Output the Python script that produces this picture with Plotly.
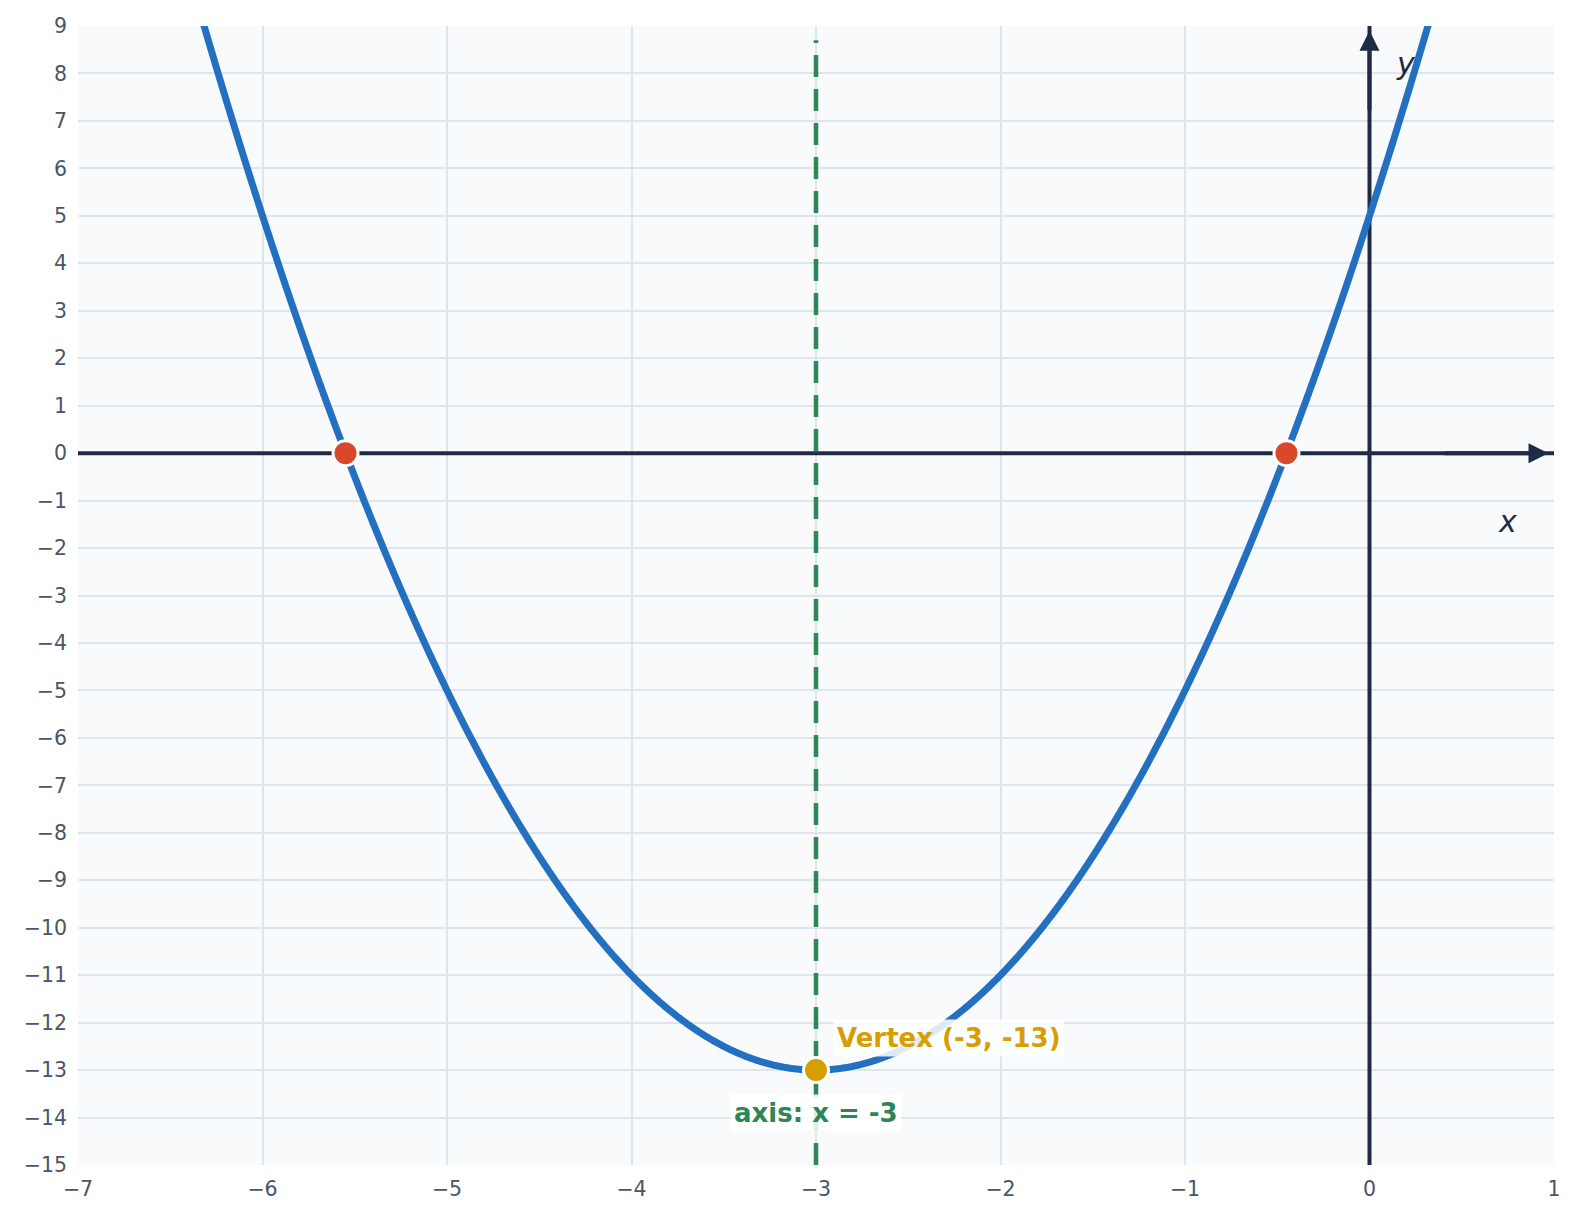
import numpy as np
import plotly.graph_objects as go

# Quadratic y = a x^2 + b x + c
coef_a = 2
coef_b = 12
coef_c = 5
x_range = [-7, 1]
y_range = [-15, 9]
roots_x = [-5.55, -0.45]
roots_y = [0, 0]
vertex_x = [-3]
vertex_y = [-13]
x_ticks = list(range(-7, 2))
y_ticks = list(range(-15, 10))

xs = np.linspace(x_range[0], x_range[1], 1601)
ys = coef_a * xs**2 + coef_b * xs + coef_c

BLUE = "#2470c0"
GREEN = "#2e8555"
RED = "#d9482b"
GOLD = "#d69e00"
DARK = "#1f2a44"
GRID = "#dde5ef"
TICK = "#4a5568"

fig = go.Figure()

# coordinate axes
fig.add_trace(go.Scatter(x=x_range, y=[0, 0], mode="lines",
                         line=dict(color=DARK, width=4), hoverinfo="skip", showlegend=False))
fig.add_trace(go.Scatter(x=[0, 0], y=y_range, mode="lines",
                         line=dict(color=DARK, width=4), hoverinfo="skip", showlegend=False))
# symmetry axis
fig.add_trace(go.Scatter(x=[vertex_x[0], vertex_x[0]], y=[y_range[0], y_range[1] - 0.3], mode="lines",
                         line=dict(color=GREEN, width=4.5, dash="22px,12px"),
                         hoverinfo="skip", showlegend=False))

fig.add_trace(go.Scatter(x=xs, y=ys, mode="lines",
                         line=dict(color=BLUE, width=7, simplify=False), hoverinfo="skip",
                         showlegend=False))

fig.add_trace(go.Scatter(x=roots_x, y=roots_y, mode="markers",
                         marker=dict(color=RED, size=25, line=dict(color="white", width=3)),
                         showlegend=False, hoverinfo="skip", cliponaxis=False))
fig.add_trace(go.Scatter(x=vertex_x, y=vertex_y, mode="markers",
                         marker=dict(color=GOLD, size=25, line=dict(color="white", width=3)),
                         showlegend=False, hoverinfo="skip", cliponaxis=False))

# arrowheads
fig.add_annotation(x=x_range[1] - 0.03, y=0, ax=0.4, ay=0, axref="x", ayref="y",
                   xref="x", yref="y", text="", showarrow=True, arrowhead=2,
                   arrowsize=1.0, arrowwidth=4, arrowcolor=DARK)
fig.add_annotation(x=0, y=y_range[1] - 0.1, ax=0, ay=7.2, axref="x", ayref="y",
                   xref="x", yref="y", text="", showarrow=True, arrowhead=2,
                   arrowsize=1.0, arrowwidth=4, arrowcolor=DARK)

fig.add_annotation(x=0.75, y=-1.45, text="<i>x</i>", showarrow=False,
                   font=dict(size=30, color=DARK))
fig.add_annotation(x=0.2, y=8.2, text="<i>y</i>", showarrow=False,
                   font=dict(size=30, color=DARK))

fig.add_annotation(x=-2.91, y=-12.33, text="<b>Vertex (-3, -13)</b>", showarrow=False,
                   xanchor="left", font=dict(size=26, color=GOLD),
                   bgcolor="rgba(255,255,255,0.85)", borderpad=3)
fig.add_annotation(x=-3, y=-13.9, text="<b>axis: x = -3</b>", showarrow=False,
                   font=dict(size=26, color=GREEN),
                   bgcolor="rgba(255,255,255,0.85)", borderpad=3)

fig.update_xaxes(range=x_range, tickvals=x_ticks, showgrid=True, gridcolor=GRID, gridwidth=2,
                 zeroline=False, showline=False, ticks="", automargin=False,
                 ticklabelstandoff=9,
                 tickfont=dict(size=20.5, color=TICK))
fig.update_yaxes(range=y_range, tickvals=y_ticks, showgrid=True, gridcolor=GRID, gridwidth=2,
                 zeroline=False, showline=False, ticks="", automargin=False,
                 ticklabelstandoff=10,
                 tickfont=dict(size=20.5, color=TICK))

fig.update_layout(width=1564, height=1203,
                  margin=dict(l=70, r=18, t=18, b=46),
                  plot_bgcolor="#f8fafc", paper_bgcolor="white",
                  font=dict(family="DejaVu Sans"), showlegend=False)

fig.write_html("out.html")
